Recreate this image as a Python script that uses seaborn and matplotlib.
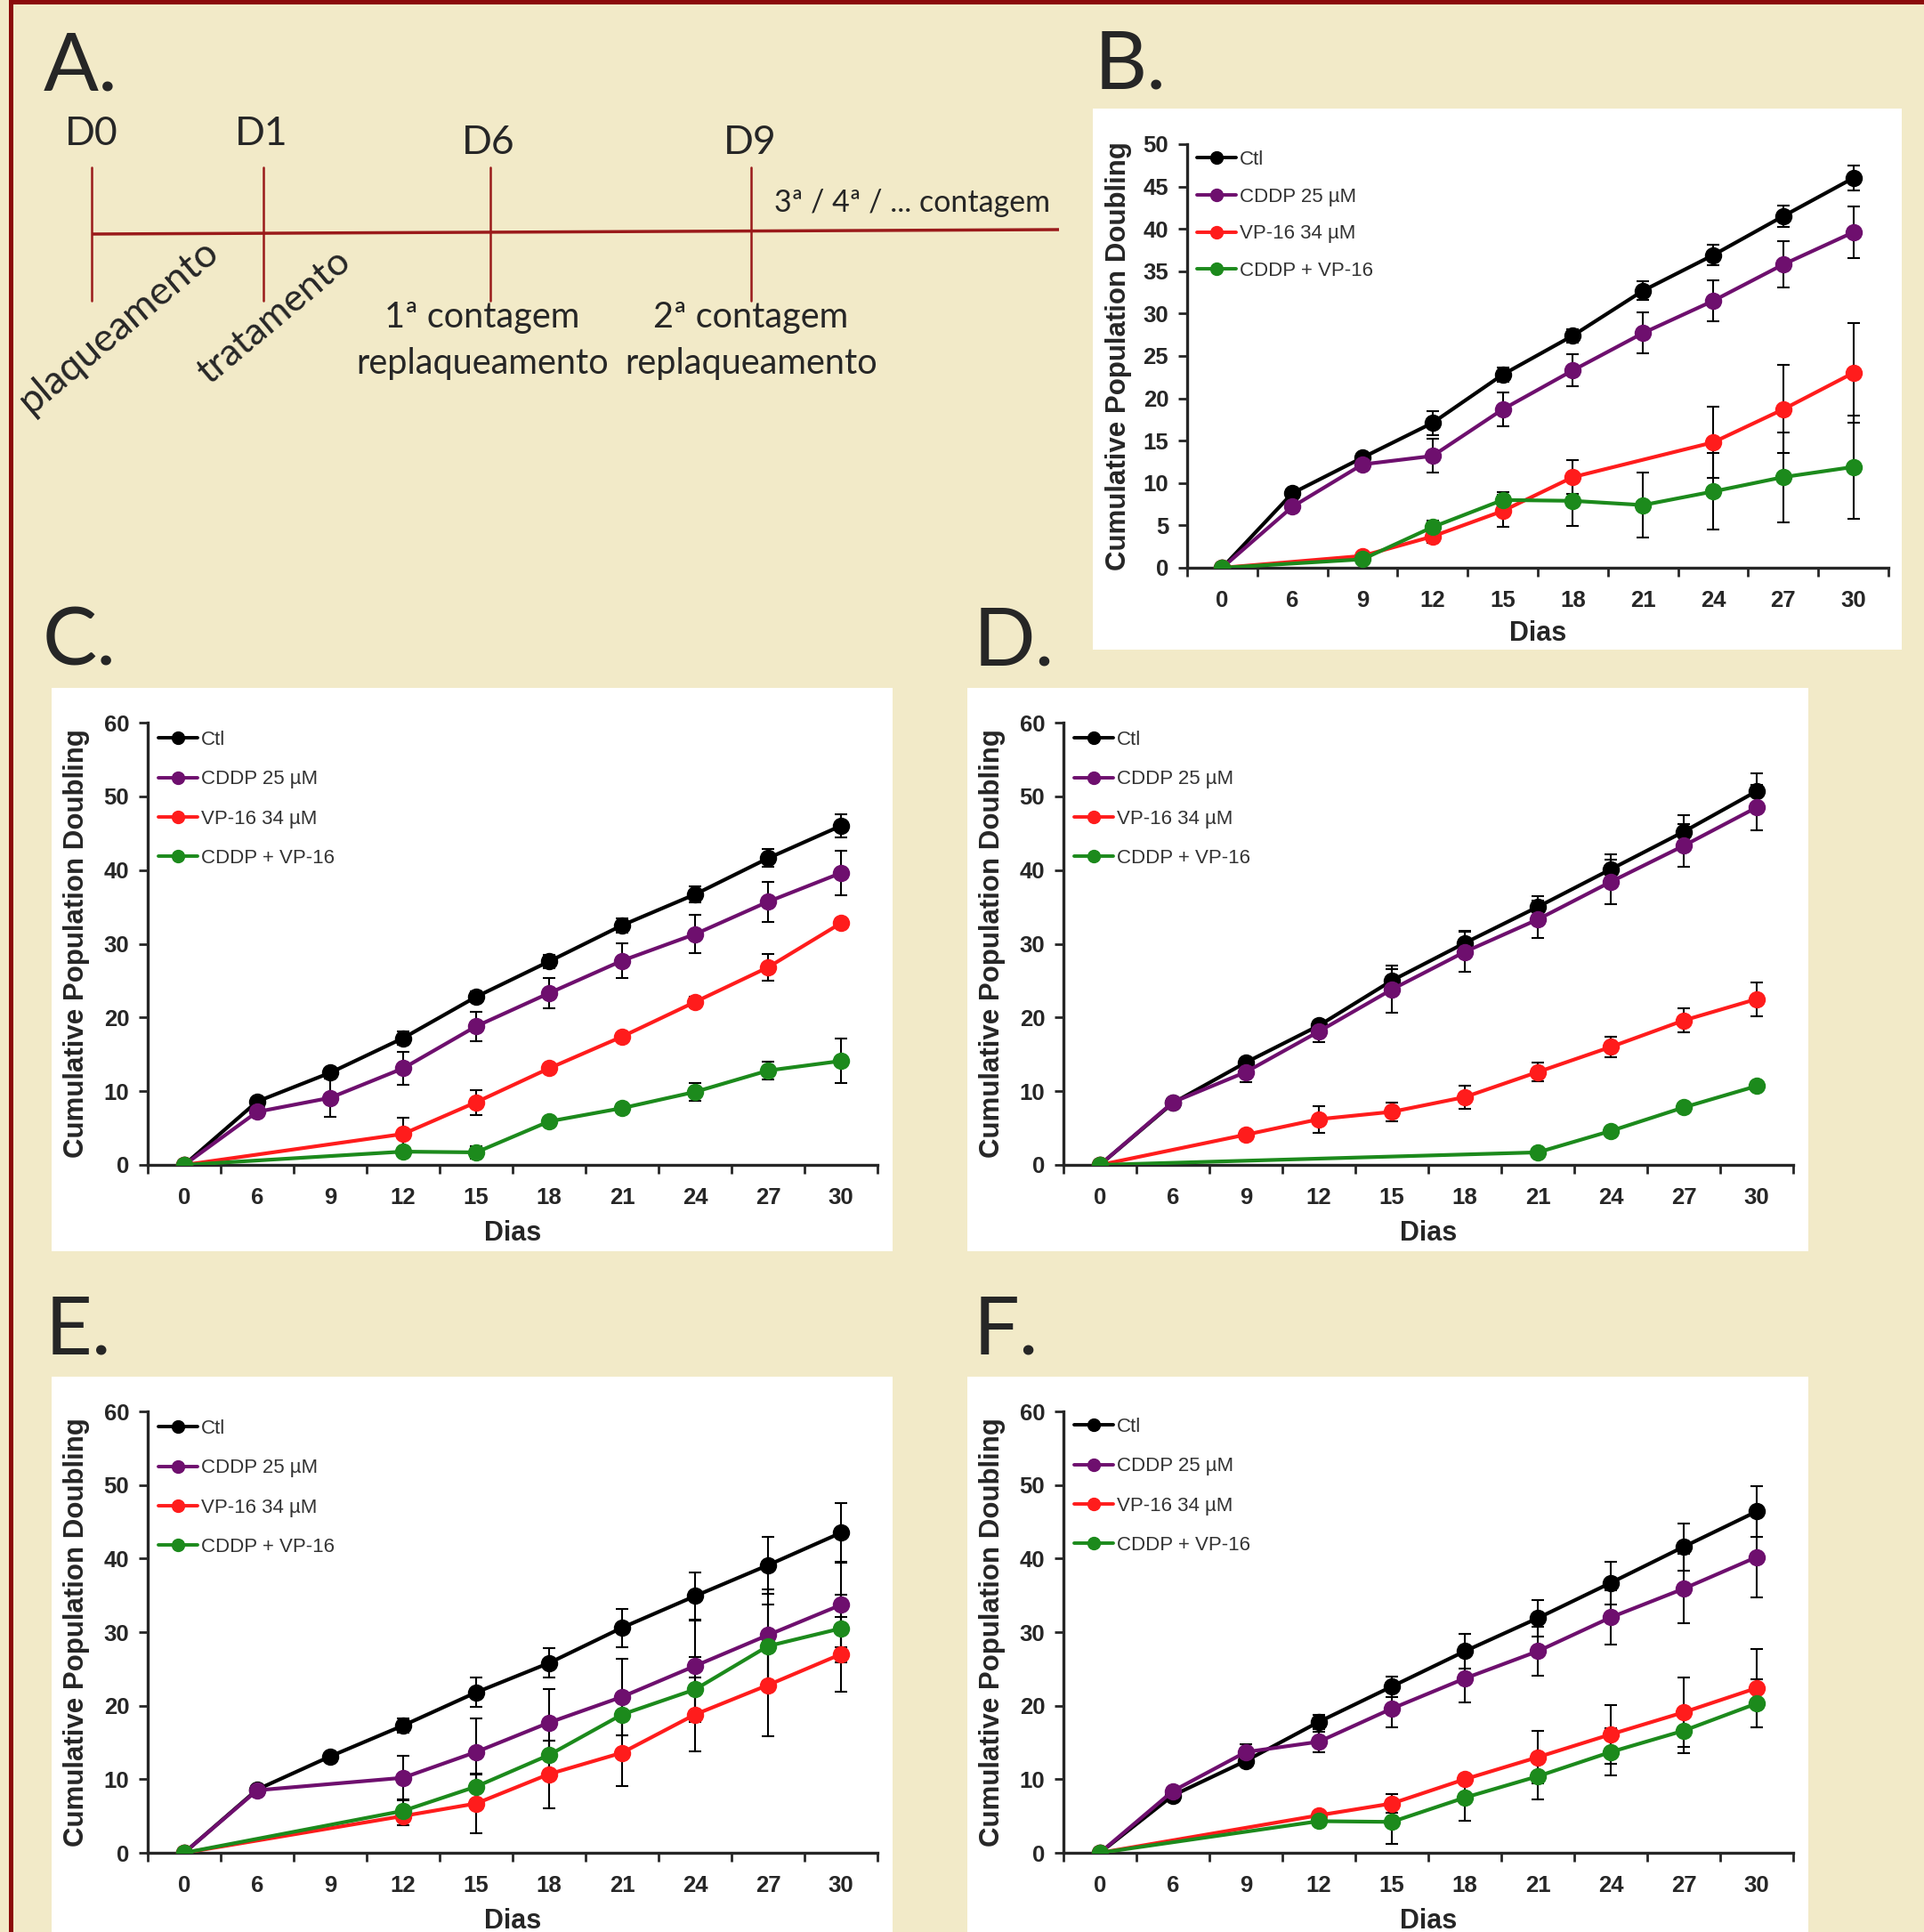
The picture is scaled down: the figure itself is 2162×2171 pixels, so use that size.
import numpy as np
import pandas as pd
import seaborn as sns
import matplotlib.pyplot as plt
from matplotlib.patches import Rectangle
from matplotlib.lines import Line2D

nan = np.nan
W, H = 2162, 2171

days = [0, 6, 9, 12, 15, 18, 21, 24, 27, 30]
series = ["Ctl", "CDDP 25 µM", "VP-16 34 µM", "CDDP + VP-16"]
colors = ["#000000", "#6e0f6e", "#ff1c1c", "#1c8a1c"]

# B
b_ctl = [0, 8.8, 13.0, 17.1, 22.8, 27.4, 32.7, 36.9, 41.5, 46.0]
b_ctl_err = [nan, 0.3, 0.3, 1.4, 0.8, 0.8, 1.1, 1.2, 1.3, 1.5]
b_cddp = [0, 7.2, 12.2, 13.2, 18.7, 23.3, 27.7, 31.5, 35.8, 39.6]
b_cddp_err = [nan, 0.3, 0.4, 2.0, 2.0, 1.9, 2.4, 2.4, 2.7, 3.0]
b_vp = [0, nan, 1.4, 3.7, 6.7, 10.7, nan, 14.8, 18.7, 23.0]
b_vp_err = [nan, nan, 0.2, 0.8, 1.9, 2.0, nan, 4.2, 5.2, 5.9]
b_combo = [0, nan, 1.0, 4.8, 8.0, 7.9, 7.4, 9.0, 10.7, 11.9]
b_combo_err = [nan, nan, 0.2, 0.8, 0.9, 3.0, 3.8, 4.5, 5.3, 6.1]

# C
c_ctl = [0, 8.6, 12.5, 17.2, 22.8, 27.6, 32.5, 36.7, 41.6, 46.0]
c_ctl_err = [nan, 0.3, 0.5, 0.9, 0.7, 0.9, 1.0, 1.1, 1.2, 1.6]
c_cddp = [0, 7.2, 9.1, 13.1, 18.8, 23.3, 27.7, 31.3, 35.7, 39.6]
c_cddp_err = [nan, 0.3, 2.6, 2.2, 2.0, 2.0, 2.4, 2.6, 2.7, 3.0]
c_vp = [0, nan, nan, 4.2, 8.5, 13.1, 17.4, 22.1, 26.8, 32.8]
c_vp_err = [nan, nan, nan, 2.2, 1.7, 0.6, 0.5, 0.7, 1.8, 0.7]
c_combo = [0, nan, nan, 1.8, 1.7, 5.9, 7.7, 9.9, 12.8, 14.1]
c_combo_err = [nan, nan, nan, 0.5, 0.8, 0.5, 0.6, 1.2, 1.2, 3.0]

# D
d_ctl = [0, 8.4, 13.9, 18.9, 25.0, 30.1, 35.0, 40.1, 45.2, 50.7]
d_ctl_err = [nan, 0.3, 0.5, 0.6, 1.6, 1.6, 1.5, 2.0, 2.3, 2.4]
d_cddp = [0, 8.5, 12.6, 18.1, 23.8, 28.9, 33.3, 38.4, 43.3, 48.5]
d_cddp_err = [nan, 0.3, 1.4, 1.5, 3.2, 2.7, 2.5, 3.0, 2.9, 3.1]
d_vp = [0, nan, 4.1, 6.2, 7.2, 9.2, 12.6, 16.0, 19.6, 22.5]
d_vp_err = [nan, nan, 0.3, 1.8, 1.3, 1.6, 1.3, 1.4, 1.6, 2.3]
d_combo = [0, nan, nan, nan, nan, nan, 1.7, 4.6, 7.8, 10.7]
d_combo_err = [nan, nan, nan, nan, nan, nan, 0.3, 0.4, 0.5, 0.6]

# E
e_ctl = [0, 8.6, 13.1, 17.3, 21.8, 25.8, 30.6, 34.9, 39.1, 43.5]
e_ctl_err = [nan, 0.3, 0.5, 1.0, 2.0, 2.0, 2.6, 3.2, 3.9, 4.1]
e_cddp = [0, 8.5, nan, 10.2, 13.7, 17.7, 21.2, 25.4, 29.6, 33.7]
e_cddp_err = [nan, 0.3, nan, 3.0, 4.6, 4.6, 5.2, 6.2, 6.2, 5.8]
e_vp = [0, nan, nan, 5.0, 6.7, 10.7, 13.6, 18.8, 22.8, 27.0]
e_vp_err = [nan, nan, nan, 1.2, 4.0, 4.6, 4.5, 5.0, 7.0, 5.1]
e_combo = [0, nan, nan, 5.7, 9.0, 13.3, 18.8, 22.2, 28.1, 30.5]
e_combo_err = [nan, nan, nan, 1.4, 1.8, 2.0, 2.8, 4.4, 5.7, 4.6]

# F
f_ctl = [0, 7.8, 12.5, 17.8, 22.6, 27.4, 31.9, 36.7, 41.6, 46.4]
f_ctl_err = [nan, 0.3, 0.5, 1.0, 1.4, 2.4, 2.5, 2.9, 3.2, 3.4]
f_cddp = [0, 8.4, 13.7, 15.1, 19.6, 23.7, 27.4, 32.0, 35.9, 40.2]
f_cddp_err = [nan, 0.3, 1.0, 1.4, 2.5, 3.2, 3.3, 3.7, 4.7, 5.5]
f_vp = [0, nan, nan, 5.1, 6.7, 10.0, 13.0, 16.1, 19.1, 22.4]
f_vp_err = [nan, nan, nan, 0.4, 1.3, 0.5, 3.6, 4.0, 4.7, 5.3]
f_combo = [0, nan, nan, 4.3, 4.2, 7.5, 10.4, 13.7, 16.6, 20.3]
f_combo_err = [nan, nan, nan, 0.4, 3.0, 3.2, 3.2, 3.2, 3.0, 3.3]

sns.set_style("ticks")
plt.rcParams["font.family"] = ["Liberation Sans", "DejaVu Sans"]

bgcol = "#f2eac8"
red = "#8b0a0a"
fig = plt.figure(figsize=(W / 100, H / 100), dpi=100)
fig.patch.set_facecolor(bgcol)

bg = fig.add_axes([0, 0, 1, 1])
bg.set_xlim(0, W)
bg.set_ylim(H, 0)
bg.axis("off")

# frame
bg.add_patch(Rectangle((10, -5), 5, H + 10, color=red, lw=0))
bg.add_patch(Rectangle((10, 0), W, 4.5, color=red, lw=0))

# panel A: timeline
lato = ["Lato", "DejaVu Sans"]
tl = "#9a1a1a"
bg.plot([103, 1190], [263, 258], color=tl, lw=2.5, solid_capstyle="butt")
for x in [103, 296, 551, 844]:
    bg.plot([x, x], [188, 338], color=tl, lw=1.8)
for lab, x, y in [("D0", 103, 163), ("D1", 294, 163), ("D6", 549, 173), ("D9", 843, 173)]:
    bg.text(x, y, lab, family=lato, fontsize=32, ha="center", va="baseline")
bg.text(870, 238, "3ª / 4ª / ... contagem", family=lato, fontsize=24.5, ha="left", va="baseline")
bg.text(542, 368, "1ª contagem", family=lato, fontsize=28.5, ha="center", va="baseline")
bg.text(542, 420, "replaqueamento", family=lato, fontsize=28.5, ha="center", va="baseline")
bg.text(844, 368, "2ª contagem", family=lato, fontsize=28.5, ha="center", va="baseline")
bg.text(844, 420, "replaqueamento", family=lato, fontsize=28.5, ha="center", va="baseline")
bg.text(134, 367, "plaqueamento", family=lato, fontsize=32,
        rotation=40, ha="center", va="center", rotation_mode="anchor")
bg.text(308, 356, "tratamento", family=lato, fontsize=31,
        rotation=40, ha="center", va="center", rotation_mode="anchor")

# panel letters
for lab, x, y in [("A.", 49, 101), ("B.", 1230, 99), ("C.", 48, 748),
                  ("D.", 1094, 748), ("E.", 51, 1521), ("F.", 1094, 1521)]:
    bg.text(x, y, lab, family=lato, fontsize=66, ha="left", va="baseline")

panels = [
    ([b_ctl, b_cddp, b_vp, b_combo], [b_ctl_err, b_cddp_err, b_vp_err, b_combo_err],
     50, 5, (1334, 2122, 162, 638), (1228, 2137, 122, 730), (1345, 169, 0.93)),
    ([c_ctl, c_cddp, c_vp, c_combo], [c_ctl_err, c_cddp_err, c_vp_err, c_combo_err],
     60, 10, (166, 986, 812, 1309), (58, 1003, 773, 1406), (178, 821, 1.05)),
    ([d_ctl, d_cddp, d_vp, d_combo], [d_ctl_err, d_cddp_err, d_vp_err, d_combo_err],
     60, 10, (1195, 2015, 812, 1309), (1087, 2032, 773, 1406), (1207, 821, 1.05)),
    ([e_ctl, e_cddp, e_vp, e_combo], [e_ctl_err, e_cddp_err, e_vp_err, e_combo_err],
     60, 10, (166, 986, 1586, 2082), (58, 1003, 1547, 2171), (178, 1595, 1.05)),
    ([f_ctl, f_cddp, f_vp, f_combo], [f_ctl_err, f_cddp_err, f_vp_err, f_combo_err],
     60, 10, (1195, 2015, 1586, 2082), (1087, 2032, 1547, 2171), (1207, 1593, 1.05)),
]

pos = np.arange(len(days))
for means, errs, ymax, ystep, (l, r, t, b), (bl, br, bt, bb), (lx, ly, lsp) in panels:
    bg.add_patch(Rectangle((bl, bt), br - bl, bb - bt, color="white", lw=0))
    ax = fig.add_axes([l / W, 1 - b / H, (r - l) / W, (b - t) / H])
    ax.set_facecolor("none")

    rows = []
    for name, vals in zip(series, means):
        for i, v in enumerate(vals):
            if not np.isnan(v):
                rows.append((i, v, name))
    df = pd.DataFrame(rows, columns=["pos", "pd", "grupo"])
    sns.lineplot(data=df, x="pos", y="pd", hue="grupo", hue_order=series,
                 palette=colors, marker="o", markersize=14, markeredgewidth=0,
                 linewidth=3.0, legend=False, ax=ax, zorder=3)
    for vals, ee in zip(means, errs):
        ax.errorbar(pos, vals, yerr=ee, fmt="none", ecolor="black",
                    elinewidth=1.5, capsize=4.8, capthick=1.5, zorder=2)

    ax.set_xlim(-0.5, len(days) - 0.5)
    ax.set_ylim(0, ymax)
    ax.set_xticks(np.arange(-0.5, len(days), 1))
    ax.set_xticklabels([])
    ax.set_xticks(pos, minor=True)
    ax.set_xticklabels([str(d) for d in days], minor=True, fontsize=18.5, fontweight="bold")
    ax.tick_params(axis="x", which="major", direction="out", length=7, width=2)
    ax.tick_params(axis="x", which="minor", length=0, pad=18)
    yt = np.arange(0, ymax + 1, ystep)
    ax.set_yticks(yt)
    ax.set_yticklabels([str(v) for v in yt], fontsize=18.5, fontweight="bold")
    ax.tick_params(axis="y", direction="out", length=7, width=2, pad=8)
    for s in ["top", "right"]:
        ax.spines[s].set_visible(False)
    for s in ["left", "bottom"]:
        ax.spines[s].set_linewidth(2.4)
    ax.set_xlabel("Dias", fontsize=22, fontweight="bold")
    ax.set_ylabel("Cumulative Population Doubling", fontsize=22.5, fontweight="bold")
    ax.xaxis.set_label_coords(0.5, -0.124)
    ax.yaxis.set_label_coords(-0.079, 0.5)

    handles = [Line2D([], [], color=c, marker="o", markersize=10, lw=2.8) for c in colors]
    leg = ax.legend(handles, series, loc="upper left", bbox_to_anchor=(lx, ly),
                    bbox_transform=bg.transData, frameon=False, fontsize=16,
                    handlelength=2.0, handletextpad=0.15, labelspacing=lsp,
                    borderaxespad=0, borderpad=0)
    for txt in leg.get_texts():
        txt.set_color("#333333")

fig.savefig("out.png", dpi=100, facecolor=fig.get_facecolor())
